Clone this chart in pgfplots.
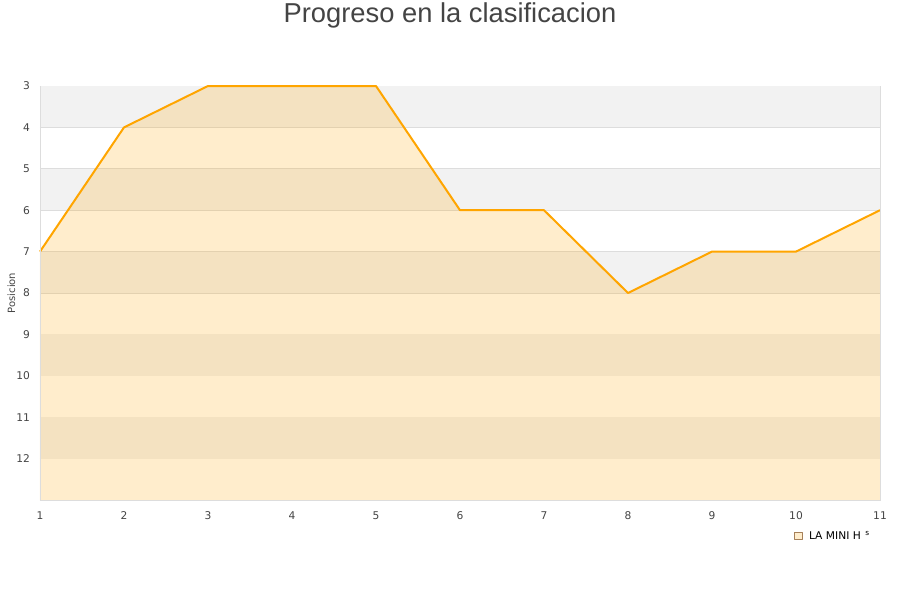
\documentclass[border=0pt]{standalone}
\usepackage{pgfplots}
\pgfplotsset{compat=1.18}
\usepackage{fontspec}
\setmainfont{DejaVu Sans}
\newfontfamily\titlefont{Liberation Sans}
\definecolor{lineor}{HTML}{FFA500}
\definecolor{band}{HTML}{F2F2F2}
\definecolor{gridc}{HTML}{DDDDDD}
\definecolor{txt}{HTML}{444444}
\begin{document}
\begin{tikzpicture}
\useasboundingbox (0pt,0pt) rectangle (675pt,450pt);
\node[font=\titlefont\fontsize{20.5}{24}\selectfont, text=txt] at (337.5pt,438.5pt) {Progreso en la clasificacion};
\begin{axis}[
    at={(30pt,75pt)}, anchor=south west,
    scale only axis, width=630pt, height=310.5pt,
    xmin=1, xmax=11, ymin=3, ymax=13,
    y dir=reverse,
    xtick={1,...,11}, ytick={3,...,12},
    major tick length=0pt,
    ymajorgrids, grid style={gridc, line width=0.5pt},
    axis line style={gridc},
    tick label style={font=\fontsize{8}{10}\selectfont, text=txt},
    /pgf/number format/assume math mode=true,
    xticklabel style={yshift=-5pt},
    yticklabel style={xshift=-4pt},
    ylabel={Posicion},
    ylabel style={font=\fontsize{7.5}{9}\selectfont, text=txt, yshift=-6pt},
    clip=false,
    legend style={at={(0.893,-0.087)}, anchor=west, draw=none, fill=none,
        font=\fontsize{8}{9}\selectfont, /tikz/every even column/.append style={column sep=0pt}},
    legend image code/.code={\draw[fill=lineor!20, draw=brown!60!gray, line width=0.4pt] (0pt,-2.8pt) rectangle (5.6pt,2.8pt);},
]
\fill[band] (axis cs:1,3) rectangle (axis cs:11,4);
\fill[band] (axis cs:1,5) rectangle (axis cs:11,6);
\fill[band] (axis cs:1,7) rectangle (axis cs:11,8);
\fill[band] (axis cs:1,9) rectangle (axis cs:11,10);
\fill[band] (axis cs:1,11) rectangle (axis cs:11,12);
\addplot[draw=none, fill=lineor, fill opacity=0.2, forget plot] coordinates {
(1,13) (1,7) (2,4) (3,3) (4,3) (5,3) (6,6) (7,6) (8,8) (9,7) (10,7) (11,6) (11,13)
} -- cycle;
\addplot[draw=lineor, line width=1.5pt, line join=round] coordinates {
(1,7) (2,4) (3,3) (4,3) (5,3) (6,6) (7,6) (8,8) (9,7) (10,7) (11,6)
};
\addlegendentry{\hspace{3pt}LA MINI H\raisebox{3pt}{\fontsize{5.5}{6}\selectfont\ \ s}}
\draw[gridc, line width=0.6pt] (axis cs:1,13) -- (axis cs:11,13) -- (axis cs:11,3);
\draw[gridc, line width=0.6pt] (axis cs:1,13) -- (axis cs:1,3);
\end{axis}
\end{tikzpicture}
\end{document}
